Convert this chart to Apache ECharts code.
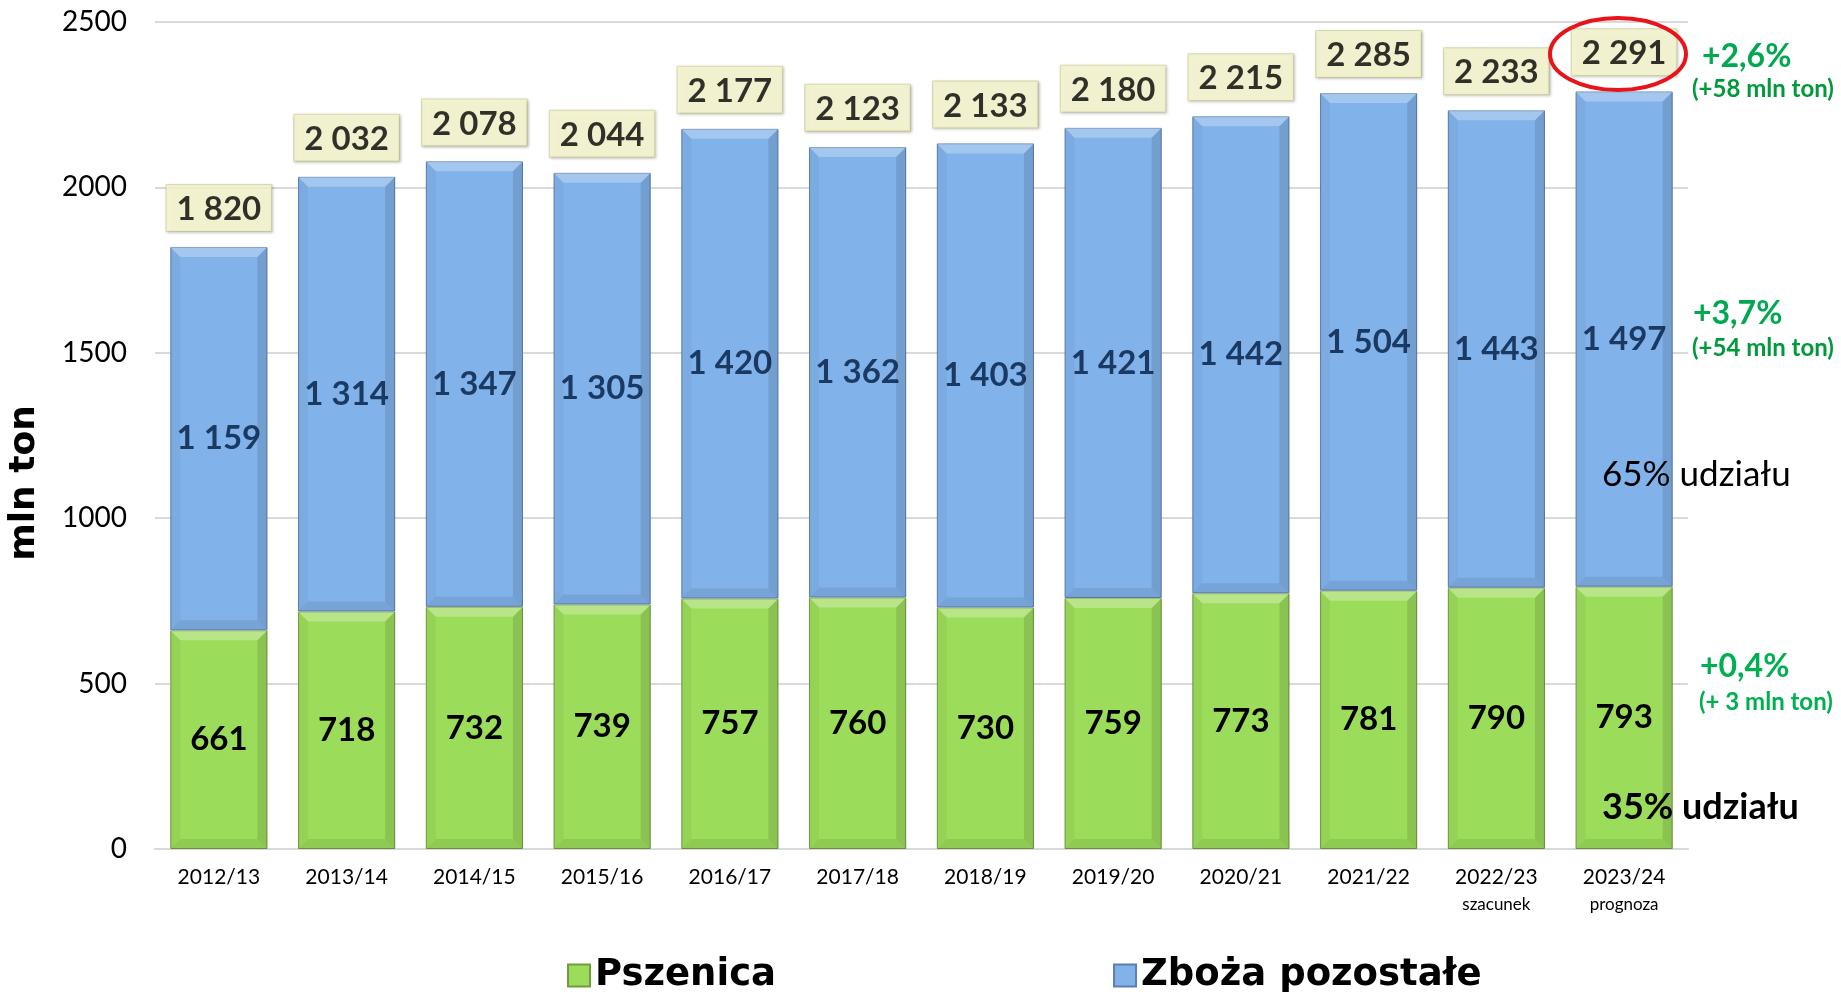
<!DOCTYPE html>
<html>
<head>
<meta charset="utf-8">
<script src="https://cdn.jsdelivr.net/npm/echarts@6/dist/echarts.min.js"></script>
<style>
html,body{margin:0;padding:0;background:#fff;}
#chart{width:1841px;height:992px;}
</style>
</head>
<body>
<div id="chart"></div>
<script>
var sezony = ['2012/13','2013/14','2014/15','2015/16','2016/17','2017/18','2018/19','2019/20','2020/21','2021/22','2022/23','2023/24'];
var podpisy = ['','','','','','','','','','','szacunek','prognoza'];
var pszenica = [661,718,732,739,757,760,730,759,773,781,790,793];
var pozostale = [1159,1314,1347,1305,1420,1362,1403,1421,1442,1504,1443,1497];
var razem = [1820,2032,2078,2044,2177,2123,2133,2180,2215,2285,2233,2291];
var yTicks = [0,500,1000,1500,2000,2500];

var FONT = 'Lato, "DejaVu Sans", sans-serif';
var FONT2 = '"DejaVu Sans", sans-serif';

function fmt(v){
	// separator tysiecy jak w oryginale: "1 820"
	var s = String(v);
	return s.length > 3 ? s.slice(0, s.length-3) + ' ' + s.slice(s.length-3) : s;
}

// krawedzie "wypuklych" slupkow (efekt bevel z Excela)
function bevelItem(params, api){
	var i = api.value(0);
	var w = api.size([1,0])[0] * 0.76;
	var b = 10;
	var parts = [];
	var segs = [[0, api.value(1)], [api.value(1), api.value(1) + api.value(2)]];
	for(var k in segs){
		var p0 = api.coord([i, segs[k][0]]);
		var p1 = api.coord([i, segs[k][1]]);
		var x0 = p0[0] - w/2, x1 = p0[0] + w/2, yb = p0[1], yt = p1[1];
		var bb = Math.min(b, (yb-yt)/2);
		parts.push({type:'polygon',shape:{points:[[x0,yt],[x1,yt],[x1-bb,yt+bb],[x0+bb,yt+bb]]},style:{fill:'rgba(255,255,255,0.28)'}});
		parts.push({type:'polygon',shape:{points:[[x0,yb],[x1,yb],[x1-bb,yb-bb],[x0+bb,yb-bb]]},style:{fill:'rgba(0,0,0,0.08)'}});
		parts.push({type:'polygon',shape:{points:[[x0,yt],[x0+bb,yt+bb],[x0+bb,yb-bb],[x0,yb]]},style:{fill:'rgba(0,0,0,0.04)'}});
		parts.push({type:'polygon',shape:{points:[[x1,yt],[x1-bb,yt+bb],[x1-bb,yb-bb],[x1,yb]]},style:{fill:'rgba(0,0,0,0.11)'}});
	}
	return {type:'group',children:parts};
}

var bevelData = [];
for(var i = 0; i < sezony.length; i++){
	bevelData.push([i, pszenica[i], pozostale[i]]);
}

var myChart = echarts.init(document.getElementById('chart'));
var option = {
	animation:false,
	textStyle:{fontFamily:FONT},
	grid:{left:155,right:153,top:22,bottom:143},
	legend:{
		left:562,
		top:952,
		itemWidth:22,
		itemHeight:22,
		itemGap:337,
		icon:'rect',
		textStyle:{fontSize:37,fontWeight:'bold',color:'#000',fontFamily:FONT2},
		data:['Pszenica','Zboża pozostałe']
	},
	xAxis:{
		type:'category',
		data:sezony,
		axisTick:{show:false},
		axisLine:{lineStyle:{color:'#d9d9d9',width:2}},
		axisLabel:{
			interval:0,
			margin:14,
			formatter:function(v,i){
				return podpisy[i] ? '{a|' + v + '}\n{b|' + podpisy[i] + '}' : '{a|' + v + '}';
			},
			rich:{
				a:{fontSize:21,color:'#000',fontFamily:FONT,lineHeight:28},
				b:{fontSize:17,color:'#000',fontFamily:FONT,lineHeight:28}
			}
		}
	},
	yAxis:{
		type:'value',
		min:yTicks[0],
		max:yTicks[yTicks.length-1],
		interval:500,
		axisLabel:{fontSize:28,color:'#000',margin:28,fontFamily:FONT,formatter:function(v){return String(v);}},
		splitLine:{lineStyle:{color:'#d9d9d9',width:2}},
		axisLine:{show:false},
		axisTick:{show:false}
	},
	series:[
		{
			name:'Pszenica',
			type:'bar',
			stack:'s',
			barWidth:'76%',
			itemStyle:{
				color:'#9cdc5b',
				borderColor:'#6f9c3e',
				borderWidth:1
			},
			label:{
				show:true,
				position:'inside',
				fontSize:33,
				fontWeight:'bold',
				color:'#000',
				fontFamily:FONT
			},
			data:pszenica
		},
		{
			name:'Zboża pozostałe',
			type:'bar',
			stack:'s',
			itemStyle:{
				color:'#81b2ea',
				borderColor:'#5b7fae',
				borderWidth:1
			},
			label:{
				show:true,
				position:'inside',
				fontSize:33,
				fontWeight:'bold',
				color:'#1b3a63',
				fontFamily:FONT,
				formatter:function(p){return fmt(p.value);}
			},
			data:pozostale
		},
		{
			name:'bevel',
			type:'custom',
			z:3,
			silent:true,
			renderItem:bevelItem,
			encode:{x:0,y:[1,2]},
			data:bevelData
		},
		{
			name:'razem',
			type:'scatter',
			symbolSize:0,
			z:5,
			label:{
				show:true,
				position:'top',
				distance:16,
				fontSize:33,
				fontWeight:'bold',
				color:'#000',
				fontFamily:FONT,
				backgroundColor:'#fafad0',
				borderColor:'#d4d4a6',
				borderWidth:1,
				shadowColor:'rgba(0,0,0,0.25)',
				shadowBlur:3,
				shadowOffsetX:1,
				shadowOffsetY:1,
				padding:[8,10,5,10],
				formatter:function(p){return fmt(p.value);}
			},
			data:razem
		}
	],
	graphic:[
		{type:'text',rotation:Math.PI/2,x:25,y:483,
			style:{text:'mln ton',font:'bold 36px ' + FONT2,fill:'#000',textAlign:'center',textVerticalAlign:'middle'}},
		{type:'ellipse',shape:{cx:1618,cy:54,rx:68,ry:36},style:{fill:'none',stroke:'#e8141c',lineWidth:4},z:10},
		{type:'text',x:1702,y:57,style:{text:'+2,6%',font:'bold 32px ' + FONT,fill:'#00a94f',textVerticalAlign:'middle'}},
		{type:'text',x:1692,y:89,style:{text:'(+58 mln ton)',font:'bold 24px ' + FONT,fill:'#009a3a',textVerticalAlign:'middle'}},
		{type:'text',x:1693,y:314,style:{text:'+3,7%',font:'bold 32px ' + FONT,fill:'#00a94f',textVerticalAlign:'middle'}},
		{type:'text',x:1692,y:348,style:{text:'(+54 mln ton)',font:'bold 24px ' + FONT,fill:'#009a3a',textVerticalAlign:'middle'}},
		{type:'text',x:1700,y:667,style:{text:'+0,4%',font:'bold 32px ' + FONT,fill:'#00b050',textVerticalAlign:'middle'}},
		{type:'text',x:1699,y:702,style:{text:'(+ 3 mln ton)',font:'bold 24px ' + FONT,fill:'#00b050',textVerticalAlign:'middle'}},
		{type:'text',x:1602,y:475,z:10,style:{text:'65% udziału',font:'35px ' + FONT,fill:'#000',textVerticalAlign:'middle'}},
		{type:'text',x:1602,y:807,z:10,style:{text:'35% udziału',font:'bold 36px ' + FONT,fill:'#000',textVerticalAlign:'middle'}}
	]
};
myChart.setOption(option);
</script>
</body>
</html>
